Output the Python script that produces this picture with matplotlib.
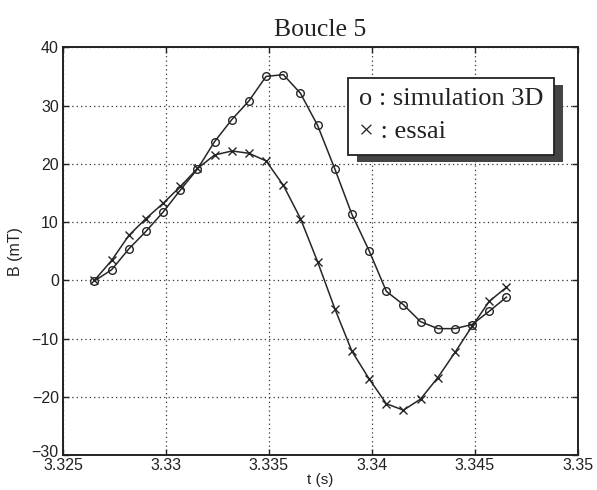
import matplotlib
matplotlib.use("Agg")
import matplotlib.pyplot as plt
from matplotlib.patches import Rectangle
from matplotlib.transforms import ScaledTranslation

# ---- data ----
t_s = [3.32653, 3.32736, 3.32820, 3.32903, 3.32986, 3.33070, 3.33153, 3.33236,
       3.33320, 3.33403, 3.33486, 3.33570, 3.33653, 3.33736, 3.33820, 3.33903,
       3.33986, 3.34070, 3.34153, 3.34236, 3.34320, 3.34403, 3.34486, 3.34570,
       3.34653]
b_simulation = [-0.1, 1.8, 5.4, 8.4, 11.7, 15.5, 19.1, 23.8, 27.6, 30.8, 35.0, 35.3,
                32.1, 26.6, 19.1, 11.3, 5.1, -1.9, -4.2, -7.1, -8.3, -8.3, -7.6,
                -5.3, -2.9]
b_essai = [0.0, 3.4, 7.7, 10.6, 13.2, 16.1, 19.2, 21.5, 22.2, 21.8, 20.5, 16.3,
           10.6, 3.2, -4.9, -12.2, -16.9, -21.2, -22.3, -20.4, -16.7, -12.4, -7.9,
           -3.6, -1.2]
x_ticks = [3.325, 3.33, 3.335, 3.34, 3.345, 3.35]
x_tick_labels = ["3.325", "3.33", "3.335", "3.34", "3.345", "3.35"]
y_ticks = [-30, -20, -10, 0, 10, 20, 30, 40]
y_tick_labels = ["\u221230", "\u221220", "\u221210", "0", "10", "20", "30", "40"]
title = "Boucle 5"
legend_lines = ["o : simulation 3D", "\u00d7 : essai"]

SANS = ["Liberation Sans", "DejaVu Sans"]
SERIF = ["Liberation Serif", "DejaVu Serif"]

fig = plt.figure(figsize=(5.97, 4.90), dpi=100)
ax = fig.add_axes([0.1055, 0.0714, 0.8625, 0.8321])

ink = "#262626"
ax.plot(t_s, b_simulation, color=ink, lw=1.1, marker="o", ms=5.5,
        mfc="none", mec=ink, mew=1.0)
ax.plot(t_s, b_essai, color=ink, lw=1.1, marker="x", ms=6,
        mec=ink, mew=1.0)

ax.set_xlim(3.325, 3.35)
ax.set_ylim(-30, 40)
ax.set_xticks(x_ticks)
ax.set_xticklabels(x_tick_labels, family=SANS, fontsize=11.5)
ax.set_yticks(y_ticks)
ax.set_yticklabels(y_tick_labels, family=SANS, fontsize=11.5)
ax.tick_params(direction="in", length=4, width=1, top=True, right=True,
               color="#222222", labelcolor="#222222", pad=3)
ax.tick_params(axis="x", pad=2)
# nudge the lowest y label up a little so it does not sit on the first x label
lbl = ax.get_yticklabels()[0]
lbl.set_transform(lbl.get_transform() + ScaledTranslation(0, 3 / 72, fig.dpi_scale_trans))
ax.grid(True, color="#333333", linestyle=(0, (1, 2.5)), linewidth=0.9)
for sp in ax.spines.values():
    sp.set_linewidth(1.4)
    sp.set_color("#222222")

ax.set_xlabel("t (s)", family=SANS, fontsize=11, color="#222222", labelpad=0)
ax.set_ylabel("B (mT)", family=SANS, fontsize=11.5, color="#222222", labelpad=6)
ax.set_title(title, family=SERIF, fontsize=18.5, color="#222222", pad=8)

# legend-like text box with a drop shadow
bx0, by0, bw, bh = 0.553, 0.736, 0.400, 0.189
dx, dy = 9 / 515, -7 / 408
ax.add_patch(Rectangle((bx0 + dx, by0 + dy), bw, bh, transform=ax.transAxes,
                       facecolor="#444444", edgecolor="none", zorder=5))
ax.add_patch(Rectangle((bx0, by0), bw, bh, transform=ax.transAxes,
                       facecolor="white", edgecolor="#222222", lw=1.3, zorder=6))
ax.text(bx0 + 0.021, 0.872, legend_lines[0], transform=ax.transAxes,
        family=SERIF, fontsize=19, va="center", ha="left", color="#222222", zorder=7)
ax.text(bx0 + 0.021, 0.792, legend_lines[1], transform=ax.transAxes,
        family=SERIF, fontsize=19, va="center", ha="left", color="#222222", zorder=7)

fig.savefig("out.png", dpi=100, facecolor="white")
